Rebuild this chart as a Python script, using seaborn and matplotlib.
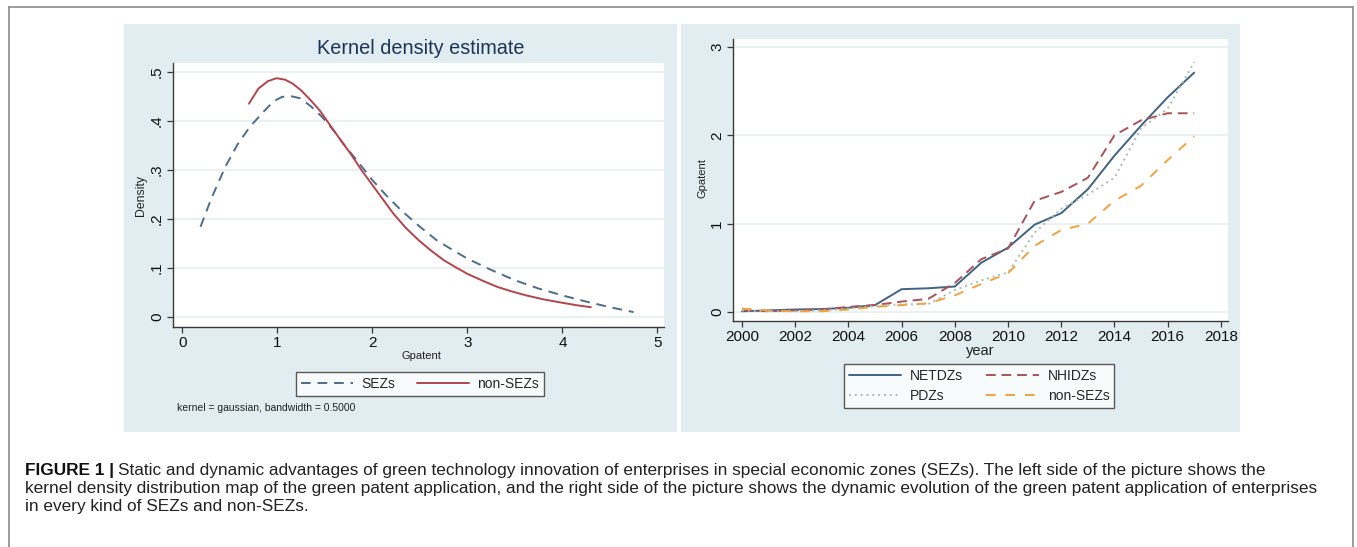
import numpy as np
import pandas as pd
import matplotlib
matplotlib.use("Agg")
import matplotlib.pyplot as plt
import seaborn as sns
from matplotlib.patches import Rectangle
from matplotlib.lines import Line2D

# ---------------- data ----------------
# Left: kernel density curves
sez_x = [0.19, 0.30, 0.45, 0.58, 0.71, 0.86, 0.96, 1.05, 1.15, 1.24, 1.35, 1.47, 1.58, 1.69, 1.85, 2.00,
         2.15, 2.30, 2.50, 2.68, 2.85, 3.00, 3.25, 3.50, 3.75, 4.00, 4.26, 4.50, 4.75]
sez_y = [0.184, 0.240, 0.306, 0.352, 0.388, 0.420, 0.440, 0.449, 0.450, 0.446, 0.430, 0.408, 0.383, 0.354, 0.316, 0.279,
         0.247, 0.218, 0.184, 0.156, 0.136, 0.119, 0.096, 0.075, 0.058, 0.044, 0.031, 0.020, 0.010]
non_x = [0.70, 0.80, 0.90, 0.99, 1.08, 1.16, 1.25, 1.35, 1.45, 1.54, 1.65, 1.77, 1.88, 2.00, 2.11, 2.22,
         2.35, 2.49, 2.62, 2.75, 2.88, 3.00, 3.16, 3.32, 3.47, 3.62, 3.80, 4.00, 4.15, 4.30]
non_y = [0.435, 0.466, 0.481, 0.487, 0.484, 0.476, 0.462, 0.442, 0.420, 0.395, 0.365, 0.333, 0.301, 0.269, 0.240, 0.211,
         0.182, 0.156, 0.135, 0.116, 0.101, 0.088, 0.074, 0.061, 0.052, 0.044, 0.036, 0.029, 0.024, 0.020]

# Right: Gpatent by year
years = list(range(2000, 2018))
netdz = [0.01, 0.02, 0.03, 0.035, 0.05, 0.08, 0.26, 0.27, 0.29, 0.56, 0.73, 0.99, 1.12, 1.39, 1.77, 2.11, 2.43, 2.71]
nhidz = [0.02, 0.01, 0.02, 0.03, 0.06, 0.08, 0.12, 0.15, 0.33, 0.60, 0.72, 1.26, 1.36, 1.52, 2.00, 2.17, 2.25, 2.25]
pdz = [0.02, 0.01, 0.01, 0.02, 0.04, 0.07, 0.09, 0.09, 0.25, 0.36, 0.45, 0.90, 1.17, 1.33, 1.52, 2.08, 2.30, 2.83]
nonsez = [0.04, 0.02, 0.01, 0.01, 0.03, 0.06, 0.08, 0.10, 0.19, 0.32, 0.44, 0.75, 0.93, 1.00, 1.26, 1.43, 1.72, 1.99]

left_yticks = [0, 0.1, 0.2, 0.3, 0.4, 0.5]
left_yticklabels = ["0", ".1", ".2", ".3", ".4", ".5"]
left_xticks = [0, 1, 2, 3, 4, 5]
right_xticks = list(range(2000, 2019, 2))
right_yticks = [0, 1, 2, 3]

caption_bold = "FIGURE 1 |"
caption_lines = [
    "Static and dynamic advantages of green technology innovation of enterprises in special economic zones (SEZs). The left side of the picture shows the",
    "kernel density distribution map of the green patent application, and the right side of the picture shows the dynamic evolution of the green patent application of enterprises",
    "in every kind of SEZs and non-SEZs.",
]

# ---------------- style ----------------
sns.set_style("ticks")
plt.rcParams["font.family"] = ["Liberation Sans", "DejaVu Sans"]

W, H = 1357, 547
fig = plt.figure(figsize=(W / 100, H / 100), dpi=100)
fig.patch.set_facecolor("white")


def fx(px):
    return px / W


def fy(py):
    return 1 - py / H


def axes_px(x0, y0, x1, y1):
    return fig.add_axes([fx(x0), fy(y1), fx(x1) - fx(x0), (y1 - y0) / H])


panel_col = "#e1edf0"
grid_col = "#e6eff1"
# outer frame lines
for (xa, ya, xb, yb) in [(9, 7, 1353, 7), (9, 7, 9, 547), (1353, 7, 1353, 547)]:
    fig.add_artist(Line2D([fx(xa), fx(xb)], [fy(ya), fy(yb)], color="#8a8a8a", lw=1.2,
                          transform=fig.transFigure))
# panel backgrounds
fig.patches.append(Rectangle((fx(124), fy(432)), fx(677) - fx(124), (432 - 24) / H,
                             transform=fig.transFigure, facecolor=panel_col, edgecolor="none", zorder=-5))
fig.patches.append(Rectangle((fx(681), fy(432)), fx(1240) - fx(681), (432 - 24) / H,
                             transform=fig.transFigure, facecolor=panel_col, edgecolor="none", zorder=-5))


def style_axes(ax):
    ax.set_zorder(2)
    ax.set_facecolor("white")
    for s in ["top", "right"]:
        ax.spines[s].set_visible(False)
    for s in ["left", "bottom"]:
        ax.spines[s].set_color("#3a3a3a")
        ax.spines[s].set_linewidth(1.0)
    ax.tick_params(axis="both", direction="out", length=4, width=0.9, color="#3a3a3a",
                   labelsize=11, labelcolor="#111111", pad=2.5)
    ax.grid(axis="y", color=grid_col, lw=1.2)
    ax.grid(axis="x", visible=False)
    ax.set_axisbelow(True)


# ---------------- left panel ----------------
axL = axes_px(173, 63, 664, 327)
style_axes(axL)
dfs = pd.DataFrame({"x": sez_x, "y": sez_y})
dfn = pd.DataFrame({"x": non_x, "y": non_y})
sns.lineplot(data=dfs, x="x", y="y", ax=axL, color="#4d6d8c", lw=1.4,
             linestyle=(0, (5, 3.5)), label="SEZs", sort=False)
sns.lineplot(data=dfn, x="x", y="y", ax=axL, color="#b4444c", lw=1.4,
             linestyle="-", label="non-SEZs", sort=False)
axL.set_xlim(-0.1, 5.07)
axL.set_ylim(-0.0204, 0.518)
axL.set_xticks(left_xticks)
axL.set_yticks(left_yticks)
axL.set_yticklabels(left_yticklabels, rotation=90, va="center")
axL.set_xlabel("")
axL.set_ylabel("")
legL = axL.legend(loc="center", bbox_to_anchor=(fx(420), fy(384)), bbox_transform=fig.transFigure,
                  ncol=2, frameon=True, fancybox=False, fontsize=10, handlelength=3.7,
                  columnspacing=1.6, handletextpad=0.6, borderpad=0.35)
legL.get_frame().set_edgecolor("#333333")
legL.get_frame().set_linewidth(1.0)

fig.text(fx(421), fy(49), "Kernel density estimate", ha="center", va="center",
         fontsize=14.3, color="#1c3557")
fig.text(fx(421), fy(356), "Gpatent", ha="center", va="center", fontsize=8, color="#222222")
fig.text(fx(141), fy(196), "Density", ha="center", va="center", rotation=90, fontsize=8.8,
         color="#222222")
fig.text(fx(177), fy(408), "kernel = gaussian, bandwidth = 0.5000", ha="left", va="center",
         fontsize=7.5, color="#222222")

# ---------------- right panel ----------------
axR = axes_px(733, 39, 1228, 321)
style_axes(axR)
dfr = pd.DataFrame({"year": years, "NETDZs": netdz, "NHIDZs": nhidz, "PDZs": pdz, "non-SEZs": nonsez})
sns.lineplot(data=dfr, x="year", y="NETDZs", ax=axR, color="#3f6384", lw=1.4, linestyle="-",
             label="NETDZs")
sns.lineplot(data=dfr, x="year", y="NHIDZs", ax=axR, color="#a8525b", lw=1.4,
             linestyle=(0, (5, 3)), label="NHIDZs")
sns.lineplot(data=dfr, x="year", y="PDZs", ax=axR, color="#a7bcae", lw=1.4,
             linestyle=(0, (1, 2)), label="PDZs")
sns.lineplot(data=dfr, x="year", y="non-SEZs", ax=axR, color="#f0a23e", lw=1.4,
             linestyle=(0, (5, 5)), label="non-SEZs")
axR.set_xlim(1999.66, 2018.27)
axR.set_ylim(-0.10, 3.09)
axR.set_xticks(right_xticks)
axR.set_yticks(right_yticks)
axR.set_yticklabels([str(v) for v in right_yticks], rotation=90, va="center")
axR.set_xlabel("")
axR.set_ylabel("")
h, l = axR.get_legend_handles_labels()
order = [0, 2, 1, 3]
legR = axR.legend([h[i] for i in order], [l[i] for i in order], loc="center",
                  bbox_to_anchor=(fx(979), fy(386)), bbox_transform=fig.transFigure,
                  ncol=2, frameon=True, fancybox=False, fontsize=10, handlelength=3.8,
                  columnspacing=1.7, handletextpad=0.6, borderpad=0.35, labelspacing=0.45)
legR.get_frame().set_edgecolor("#333333")
legR.get_frame().set_linewidth(1.0)

fig.text(fx(980), fy(351), "year", ha="center", va="center", fontsize=10.5, color="#222222")
fig.text(fx(702), fy(178), "Gpatent", ha="center", va="center", rotation=90, fontsize=8,
         color="#222222")

# ---------------- caption ----------------
cap_size = 12.4
fig.canvas.draw()
renderer = fig.canvas.get_renderer()
tb = fig.text(fx(25), fy(475), caption_bold, ha="left", va="baseline", fontsize=cap_size,
              fontweight="bold", color="#111111")
bb = tb.get_window_extent(renderer=renderer)
fig.text(bb.x1 / W + fx(4), fy(475), caption_lines[0], ha="left", va="baseline",
         fontsize=cap_size, color="#222222")
fig.text(fx(25), fy(493), caption_lines[1], ha="left", va="baseline", fontsize=cap_size,
         color="#222222")
fig.text(fx(25), fy(511), caption_lines[2], ha="left", va="baseline", fontsize=cap_size,
         color="#222222")

fig.savefig("out.png", dpi=100, facecolor="white")
